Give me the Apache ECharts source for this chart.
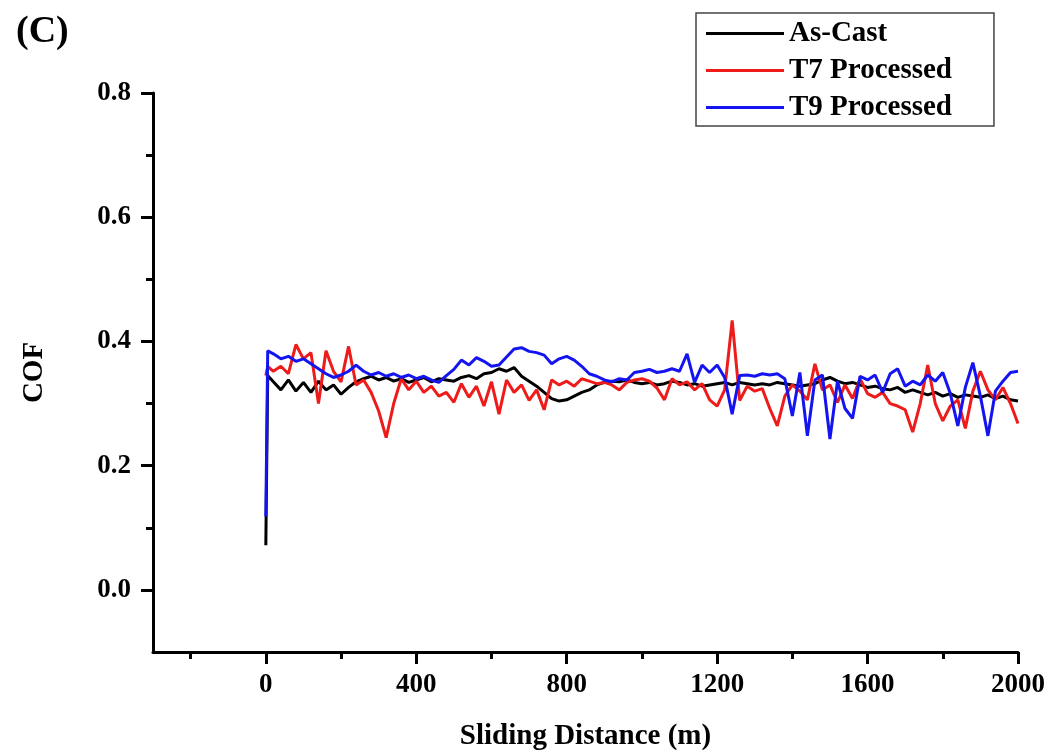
<!DOCTYPE html>
<html>
<head>
<meta charset="utf-8">
<title>COF vs Sliding Distance (C)</title>
<script src="https://cdn.jsdelivr.net/npm/echarts@6/dist/echarts.min.js"></script>
<style>
  html, body { margin: 0; padding: 0; background: #fff; }
  #chart { width: 1058px; height: 756px; }
</style>
</head>
<body>
<div id="chart"></div>
<script>
// sliding distance (m), shared by the three runs
const distance = [
  0, 5, 20, 40, 60, 80, 100, 120, 140, 160, 180, 200, 220, 240, 260, 280, 300, 320, 340, 360, 380,
  400, 420, 440, 460, 480, 500, 520, 540, 560, 580, 600, 620, 640, 660, 680, 700, 720, 740, 760, 780,
  800, 820, 840, 860, 880, 900, 920, 940, 960, 980, 1000, 1020, 1040, 1060, 1080, 1100, 1120, 1140, 1160, 1180,
  1200, 1220, 1240, 1260, 1280, 1300, 1320, 1340, 1360, 1380, 1400, 1420, 1440, 1460, 1480, 1500, 1520, 1540, 1560, 1580,
  1600, 1620, 1640, 1660, 1680, 1700, 1720, 1740, 1760, 1780, 1800, 1820, 1840, 1860, 1880, 1900, 1920, 1940, 1960, 1980,
  2000
];

const asCast = [
  0.072, 0.345, 0.335, 0.322, 0.338, 0.320, 0.334, 0.318, 0.336, 0.322, 0.330, 0.315, 0.326, 0.335, 0.340, 0.344, 0.338, 0.342, 0.336, 0.340, 0.334,
  0.338, 0.342, 0.335, 0.340, 0.338, 0.336, 0.342, 0.345, 0.340, 0.348, 0.350, 0.356, 0.352, 0.358, 0.344, 0.336, 0.328, 0.318, 0.308, 0.304,
  0.306, 0.312, 0.318, 0.322, 0.330, 0.334, 0.336, 0.335, 0.338, 0.334, 0.332, 0.334, 0.330, 0.332, 0.336, 0.334, 0.330, 0.332, 0.328, 0.330,
  0.332, 0.334, 0.330, 0.334, 0.332, 0.330, 0.332, 0.330, 0.334, 0.332, 0.330, 0.328, 0.330, 0.332, 0.338, 0.342, 0.336, 0.332, 0.334, 0.330,
  0.326, 0.328, 0.324, 0.322, 0.326, 0.318, 0.322, 0.318, 0.314, 0.318, 0.312, 0.316, 0.310, 0.314, 0.312, 0.310, 0.314, 0.308, 0.312, 0.306,
  0.304
];

const t7 = [
  0.345, 0.360, 0.352, 0.360, 0.348, 0.395, 0.372, 0.382, 0.300, 0.385, 0.352, 0.335, 0.392, 0.330, 0.338, 0.318, 0.288, 0.245, 0.300, 0.340, 0.322,
  0.336, 0.318, 0.328, 0.312, 0.318, 0.302, 0.332, 0.310, 0.328, 0.296, 0.335, 0.283, 0.338, 0.318, 0.330, 0.305, 0.322, 0.290, 0.338, 0.330,
  0.336, 0.328, 0.340, 0.336, 0.332, 0.334, 0.330, 0.322, 0.334, 0.338, 0.340, 0.336, 0.325, 0.306, 0.340, 0.330, 0.335, 0.322, 0.332, 0.306,
  0.296, 0.322, 0.434, 0.305, 0.328, 0.320, 0.324, 0.292, 0.264, 0.312, 0.330, 0.320, 0.306, 0.364, 0.322, 0.330, 0.302, 0.330, 0.308, 0.340,
  0.316, 0.310, 0.318, 0.300, 0.296, 0.290, 0.254, 0.300, 0.362, 0.300, 0.272, 0.296, 0.306, 0.260, 0.320, 0.352, 0.322, 0.306, 0.326, 0.300,
  0.268
];

const t9 = [
  0.118, 0.385, 0.380, 0.372, 0.376, 0.368, 0.372, 0.364, 0.356, 0.348, 0.342, 0.346, 0.352, 0.362, 0.352, 0.346, 0.350, 0.344, 0.348, 0.342, 0.346,
  0.340, 0.344, 0.338, 0.334, 0.345, 0.355, 0.370, 0.362, 0.374, 0.368, 0.360, 0.362, 0.375, 0.388, 0.390, 0.384, 0.382, 0.378, 0.364, 0.372,
  0.376, 0.370, 0.360, 0.348, 0.344, 0.338, 0.335, 0.340, 0.338, 0.350, 0.352, 0.355, 0.350, 0.352, 0.356, 0.352, 0.380, 0.334, 0.362, 0.350,
  0.362, 0.342, 0.283, 0.345, 0.346, 0.344, 0.348, 0.346, 0.348, 0.340, 0.280, 0.350, 0.248, 0.338, 0.346, 0.243, 0.336, 0.292, 0.276, 0.344,
  0.338, 0.346, 0.318, 0.348, 0.356, 0.328, 0.336, 0.330, 0.346, 0.336, 0.350, 0.316, 0.264, 0.326, 0.366, 0.312, 0.248, 0.320, 0.336, 0.350,
  0.352
];

// tick positions
const xMajorTicks = [0, 400, 800, 1200, 1600, 2000];
const xMinorTicks = [-200, 200, 600, 1000, 1400, 1800];
const yMajorTicks = [0, 0.2, 0.4, 0.6, 0.8];
const yMinorTicks = [0.1, 0.3, 0.5, 0.7];

const FONT = '"Liberation Serif", "Times New Roman", serif';

const pairs = ys => distance.map((d, i) => [d, ys[i]]);

const chart = echarts.init(document.getElementById('chart'), null, { renderer: 'canvas' });

const axisLine = { show: true, onZero: false, lineStyle: { color: '#000', width: 3 } };

const option = {
  backgroundColor: '#fff',
  animation: false,
  title: {
    text: '(C)',
    left: 11,
    top: 8,
    textStyle: { fontFamily: FONT, fontSize: 38, fontWeight: 'bold', color: '#000' },
  },
  legend: {
    orient: 'vertical',
    left: 696,
    top: 13,
    padding: [6, 42, 4, 10],
    itemGap: 8,
    itemWidth: 78,
    itemHeight: 3,
    icon: 'rect',
    borderColor: '#444',
    borderWidth: 1.5,
    textStyle: { fontFamily: FONT, fontSize: 29, fontWeight: 'bold', color: '#000' },
    data: ['As-Cast', 'T7 Processed', 'T9 Processed'],
  },
  grid: { left: 153, right: 40, top: 93, bottom: 103 },
  xAxis: [
    {
      type: 'value',
      min: -300,
      max: 2000,
      name: 'Sliding Distance (m)',
      nameLocation: 'middle',
      nameGap: 70,
      nameTextStyle: { fontFamily: FONT, fontSize: 29, fontWeight: 'bold', color: '#000' },
      axisLine: axisLine,
      axisTick: { show: true, customValues: xMajorTicks, length: 12, lineStyle: { color: '#000', width: 3 } },
      axisLabel: {
        customValues: xMajorTicks,
        margin: 20,
        formatter: v => String(v),
        fontFamily: FONT, fontSize: 27, fontWeight: 'bold', color: '#000',
      },
      splitLine: { show: false },
    },
    {
      type: 'value',
      min: -300,
      max: 2000,
      position: 'bottom',
      axisLine: { show: false, onZero: false },
      axisTick: { show: true, customValues: xMinorTicks, length: 7, lineStyle: { color: '#000', width: 3 } },
      axisLabel: { show: false },
      splitLine: { show: false },
    },
  ],
  yAxis: [
    {
      type: 'value',
      min: -0.1,
      max: 0.8,
      name: 'COF',
      nameLocation: 'middle',
      nameGap: 104,
      nameTextStyle: { fontFamily: FONT, fontSize: 29, fontWeight: 'bold', color: '#000' },
      axisLine: axisLine,
      axisTick: { show: true, customValues: yMajorTicks, length: 12, lineStyle: { color: '#000', width: 3 } },
      axisLabel: {
        customValues: yMajorTicks,
        margin: 22,
        formatter: v => v.toFixed(1),
        fontFamily: FONT, fontSize: 27, fontWeight: 'bold', color: '#000',
      },
      splitLine: { show: false },
    },
    {
      type: 'value',
      min: -0.1,
      max: 0.8,
      position: 'left',
      axisLine: { show: false, onZero: false },
      axisTick: { show: true, customValues: yMinorTicks, length: 7, lineStyle: { color: '#000', width: 3 } },
      axisLabel: { show: false },
      splitLine: { show: false },
    },
  ],
  series: [
    {
      name: 'As-Cast',
      type: 'line',
      symbol: 'none',
      data: pairs(asCast),
      lineStyle: { color: '#000', width: 3 },
      itemStyle: { color: '#000' },
    },
    {
      name: 'T7 Processed',
      type: 'line',
      symbol: 'none',
      data: pairs(t7),
      lineStyle: { color: '#ee1b1b', width: 3 },
      itemStyle: { color: '#ee1b1b' },
    },
    {
      name: 'T9 Processed',
      type: 'line',
      symbol: 'none',
      data: pairs(t9),
      lineStyle: { color: '#1414f0', width: 3 },
      itemStyle: { color: '#1414f0' },
    },
  ],
};

chart.setOption(option);

window.addEventListener('resize', () => {
  chart.resize();
});
</script>
</body>
</html>
